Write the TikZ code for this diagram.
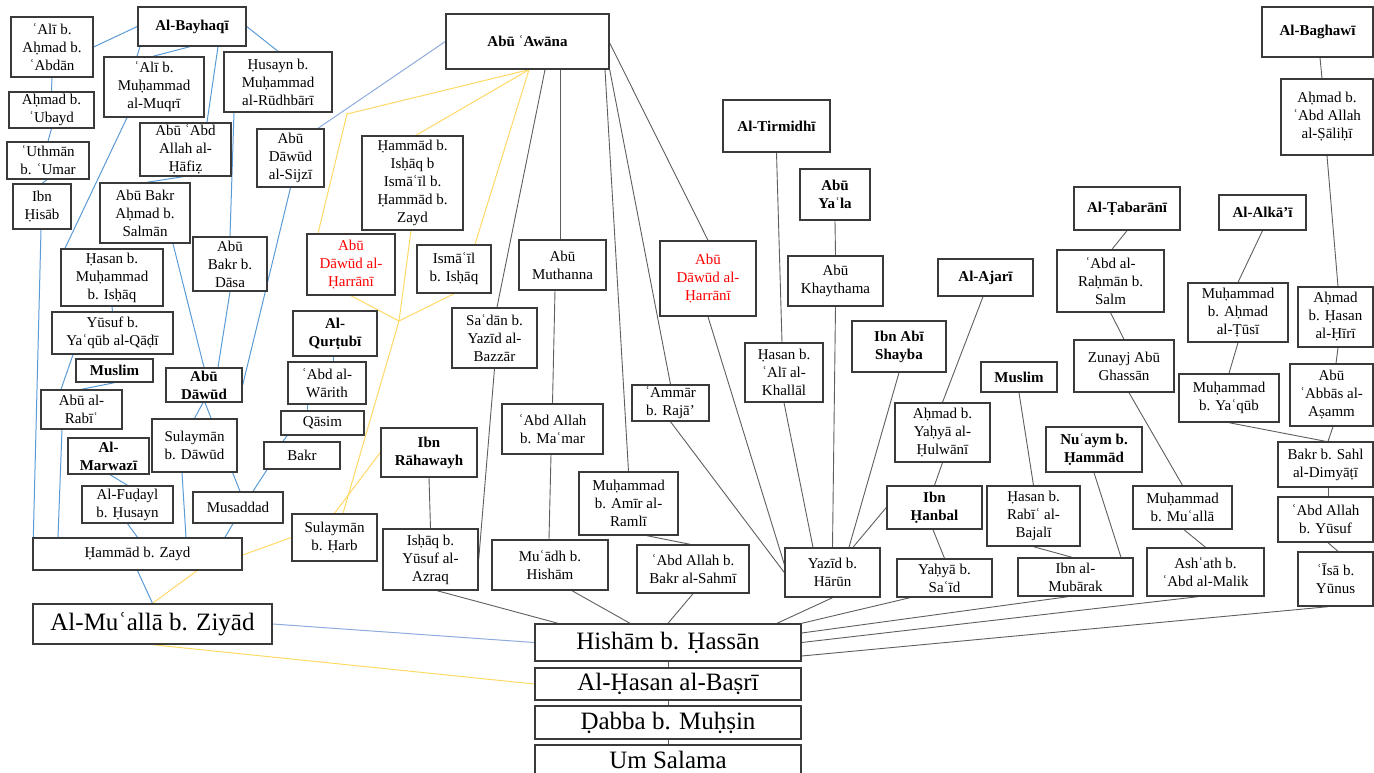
\documentclass[tikz,border=0pt]{standalone}
\usepackage{fontspec}
\setmainfont{Liberation Serif}
\definecolor{boxc}{HTML}{3A3A3A}
\definecolor{bluec}{HTML}{5B9BD5}
\definecolor{bluel}{HTML}{8FAADC}
\definecolor{yelc}{HTML}{FFD966}
\definecolor{gryc}{HTML}{5E5E5E}
\pgfdeclarelayer{edges}
\pgfsetlayers{edges,main}
\begin{document}
\begin{tikzpicture}[x=1pt,y=-1pt,
  box/.style={draw=boxc,line width=1.4pt,fill=white,inner sep=0pt,align=center,
    font=\fontsize{15}{18}\selectfont},
  bbox/.style={box,font=\fontsize{15}{18}\selectfont\bfseries},
  big/.style={box,font=\fontsize{25}{28}\selectfont},
  red/.style={text=red},
  bw/.style={minimum width=#1pt},
  bh/.style={minimum height=#1pt},
  blu/.style={draw=bluec,line width=1pt},
  blul/.style={draw=bluel,line width=1pt},
  yel/.style={draw=yelc,line width=1pt},
  gry/.style={draw=gryc,line width=0.9pt}]
\useasboundingbox (0,0) rectangle (1374,773);

% --- left cluster (Al-Bayhaqi line) ---
\node[box,bw=82,bh=60] (alib) at (52,47) {ʿAlī b.\\Aḥmad b.\\ʿAbdān};
\node[bbox,bw=108,bh=39] (bayhaqi) at (192,26.5) {Al-Bayhaqī};
\node[box,bw=100,bh=60] (alim) at (154,87) {ʿAlī b.\\Muḥammad\\al-Muqrī};
\node[box,bw=108,bh=60] (husayn) at (278,82) {Ḥusayn b.\\Muḥammad\\al-Rūdhbārī};
\node[box,bw=85,bh=36] (ahmadu) at (51.5,110) {Aḥmad b.\\ʿUbayd};
\node[box,bw=82,bh=37] (uthman) at (48,160.5) {ʿUthmān\\b. ʿUmar};
\node[box,bw=58,bh=45] (ibnhisab) at (42,206.5) {Ibn\\Ḥisāb};
\node[box,bw=91,bh=53] (hafiz) at (185.5,149.5) {Abū ʿAbd\\Allah al-\\Ḥāfiẓ};
\node[box,bw=67,bh=58] (sijzi) at (290.5,158) {Abū\\Dāwūd\\al-Sijzī};
\node[box,bw=90,bh=60] (abubakr) at (145,213) {Abū Bakr\\Aḥmad b.\\Salmān};
\node[box,bw=74,bh=54] (dasa) at (230,264) {Abū\\Bakr b.\\Dāsa};
\node[box,bw=102,bh=57] (hasanm) at (112,277.5) {Ḥasan b.\\Muḥammad\\b. Isḥāq};
\node[box,bw=121,bh=42] (yusufq) at (112.5,333) {Yūsuf b.\\Yaʿqūb al-Qāḍī};
\node[bbox,bw=77,bh=23] (muslim1) at (114.5,370.5) {Muslim};
\node[box,bw=81,bh=39] (rabi) at (81.5,409.5) {Abū al-\\Rabīʿ};
\node[bbox,bw=76,bh=34] (abudawud) at (204,385) {Abū\\Dāwūd};
\node[box,bw=85,bh=53] (sulaymand) at (194.5,445.5) {Sulaymān\\b. Dāwūd};
\node[bbox,bw=81,bh=36] (marwazi) at (108.5,456) {Al-\\Marwazī};
\node[box,bw=91,bh=37] (fudayl) at (127.5,504.5) {Al-Fuḍayl\\b. Ḥusayn};
\node[box,bw=90,bh=31] (musaddad) at (238,507.5) {Musaddad};
\node[box,bw=76,bh=27] (bakr) at (302,455.5) {Bakr};
\node[box,bw=83,bh=24] (qasim) at (322.5,423) {Qāsim};
\node[box,bw=78,bh=42] (warith) at (327,383) {ʿAbd al-\\Wārith};
\node[bbox,bw=84,bh=45] (qurtubi) at (335,333.5) {Al-\\Qurṭubī};
\node[box,bw=209,bh=32] (hammadz) at (137.5,554) {Ḥammād b. Zayd};
\node[big,bw=239,bh=40] (muallab) at (152.5,624) {Al-Muʿallā b. Ziyād};

% --- Abu Awana cluster ---
\node[box,red,bw=88,bh=61] (harrani1) at (351,264.5) {Abū\\Dāwūd al-\\Ḥarrānī};
\node[box,bw=74,bh=48] (ismail) at (454,269) {Ismāʿīl\\b. Isḥāq};
\node[box,bw=101,bh=94] (hammadi) at (412.5,183) {Ḥammād b.\\Isḥāq b\\Ismāʿīl b.\\Ḥammād b.\\Zayd};
\node[bbox,bw=163,bh=55] (awana) at (527.5,41.5) {Abū ʿAwāna};
\node[box,bw=87,bh=50] (muthanna) at (562.5,265) {Abū\\Muthanna};
\node[box,bw=85,bh=60] (sadan) at (494.5,338) {Saʿdān b.\\Yazīd al-\\Bazzār};
\node[box,bw=101,bh=50] (maamar) at (552.5,429) {ʿAbd Allah\\b. Maʿmar};
\node[box,bw=99,bh=63] (ramli) at (628.5,503.5) {Muḥammad\\b. Amīr al-\\Ramlī};
\node[box,bw=116,bh=50] (muadh) at (550,565) {Muʿādh b.\\Hishām};
\node[box,bw=112,bh=48] (sahmi) at (693,569) {ʿAbd Allah b.\\Bakr al-Sahmī};
\node[bbox,bw=96,bh=49] (rahawayh) at (429,452.5) {Ibn\\Rāhawayh};
\node[box,bw=95,bh=61] (ishaq) at (430.5,559.5) {Isḥāq b.\\Yūsuf al-\\Azraq};
\node[box,bw=85,bh=47] (sulaymanh) at (334.5,537.5) {Sulaymān\\b. Ḥarb};
\node[box,bw=77,bh=36] (ammar) at (670.5,403) {ʿAmmār\\b. Rajā’};
\node[box,red,bw=96,bh=75] (harrani2) at (708,278.5) {Abū\\Dāwūd al-\\Ḥarrānī};

% --- Yazid b. Harun cluster ---
\node[bbox,bw=107,bh=52] (tirmidhi) at (776.5,126) {Al-Tirmidhī};
\node[bbox,bw=70,bh=51] (abuyala) at (835,194.5) {Abū\\Yaʿla};
\node[box,bw=95,bh=50] (khaythama) at (835.5,281) {Abū\\Khaythama};
\node[box,bw=78,bh=59] (khallal) at (784,372.5) {Ḥasan b.\\ʿAlī al-\\Khallāl};
\node[bbox,bw=94,bh=51] (shayba) at (899,346.5) {Ibn Abī\\Shayba};
\node[bbox,bw=95,bh=37] (ajari) at (985.5,277.5) {Al-Ajarī};
\node[box,bw=95,bh=59] (hulwani) at (942.5,432.5) {Aḥmad b.\\Yaḥyā al-\\Ḥulwānī};
\node[bbox,bw=95,bh=43] (hanbal) at (934.5,507.5) {Ibn\\Ḥanbal};
\node[box,bw=95,bh=38] (yahya) at (944.5,578) {Yaḥyā b.\\Saʿīd};
\node[box,bw=95,bh=49] (yazid) at (832.5,572.5) {Yazīd b.\\Hārūn};

% --- right clusters ---
\node[bbox,bw=76,bh=30] (muslim2) at (1019,377) {Muslim};
\node[box,bw=93,bh=60] (bajali) at (1033.5,516) {Ḥasan b.\\Rabīʿ al-\\Bajalī};
\node[box,bw=115,bh=38] (mubarak) at (1075.5,577) {Ibn al-\\Mubārak};
\node[bbox,bw=96,bh=45] (nuaym) at (1094,449.5) {Nuʿaym b.\\Ḥammād};
\node[bbox,bw=106,bh=43] (tabarani) at (1127,208.5) {Al-Ṭabarānī};
\node[box,bw=107,bh=62] (rahman) at (1110.5,281) {ʿAbd al-\\Raḥmān b.\\Salm};
\node[box,bw=100,bh=52] (zunayj) at (1124,366) {Zunayj Abū\\Ghassān};
\node[box,bw=99,bh=43] (muhmualla) at (1182.5,507.5) {Muḥammad\\b. Muʿallā};
\node[box,bw=117,bh=48] (ashath) at (1205.5,572) {Ashʿath b.\\ʿAbd al-Malik};
\node[bbox,bw=87,bh=35] (alkai) at (1262.5,212.5) {Al-Alkā’ī};
\node[box,bw=100,bh=59] (tusi) at (1238,312.5) {Muḥammad\\b. Aḥmad\\al-Ṭūsī};
\node[box,bw=100,bh=48] (yaqub) at (1229,398) {Muḥammad\\b. Yaʿqūb};
\node[bbox,bw=111,bh=50] (baghawi) at (1317.5,32) {Al-Baghawī};
\node[box,bw=92,bh=76] (salihi) at (1327,117) {Aḥmad b.\\ʿAbd Allah\\al-Ṣāliḥī};
\node[box,bw=75,bh=60] (hiri) at (1335.5,317) {Aḥmad\\b. Ḥasan\\al-Ḥīrī};
\node[box,bw=83,bh=62] (asamm) at (1331.5,395) {Abū\\ʿAbbās al-\\Aṣamm};
\node[box,bw=95,bh=45] (bakrsahl) at (1325.5,464.5) {Bakr b. Sahl\\al-Dimyāṭī};
\node[box,bw=95,bh=45] (abdyusuf) at (1325.5,519.5) {ʿAbd Allah\\b. Yūsuf};
\node[box,bw=75,bh=54] (isa) at (1335.5,579) {ʿĪsā b.\\Yūnus};

% --- common chain at the bottom ---
\node[big,bw=266,bh=37] (hisham) at (668,642.5) {Hishām b. Ḥassān};
\node[big,bw=266,bh=32] (hasanb) at (668,684) {Al-Ḥasan al-Baṣrī};
\node[big,bw=266,bh=33] (dabba) at (668,722.5) {Ḍabba b. Muḥṣin};
\node[big,bw=266,bh=30] (umsalama) at (668,760) {Um Salama};

\coordinate (jn) at (399,321);
\coordinate (bd) at (347,114);

\begin{pgfonlayer}{edges}
% blue links
\draw[blu] (bayhaqi.west) -- (alib.east);
\draw[blu] ([xshift=-52pt]bayhaqi.south) -- ([xshift=-17pt]alim.north);
\draw[blu] ([xshift=-2pt]bayhaqi.south) -- ([xshift=-1pt]alim.north);
\draw[blu] ([xshift=26pt]bayhaqi.south) -- ([xshift=21.5pt]hafiz.north);
\draw[blu] (bayhaqi.east) -- (husayn.north);
\draw[blu] (alib.south) -- (ahmadu.north);
\draw[blu] (ahmadu.south) -- (uthman.north);
\draw[blu] ([xshift=-1pt]uthman.south) -- (ibnhisab.north);
\draw[blu] ([xshift=-1pt]ibnhisab.south) -- ([xshift=1pt]hammadz.north west);
\draw[blu] ([xshift=-27pt]alim.south) -- ([xshift=-47pt]hasanm.north);
\draw[blu] ([xshift=-44pt]husayn.south) -- (dasa.north);
\draw[blu] ([xshift=-2.5pt]hafiz.south) -- ([xshift=2pt]abubakr.north);
\draw[blul] ([xshift=27.5pt]sijzi.north) -- (awana.west);
\draw[blu] (sijzi.south) -- (abudawud.east);
\draw[blu] ([xshift=28pt]abubakr.south) -- (abudawud.north);
\draw[blu] (dasa.south) -- ([xshift=14pt]abudawud.north);
\draw[blu] (hasanm.south) -- (yusufq.north);
\draw[blu] ([xshift=-39.5pt]yusufq.south) -- ([xshift=-20.5pt]rabi.north);
\draw[blu] (muslim1.south) -- (rabi.north);
\draw[blu] ([xshift=-19.5pt]rabi.south) -- ([xshift=-79.5pt]hammadz.north);
\draw[blu] ([xshift=-1pt]abudawud.south) -- (sulaymand.north);
\draw[blu] ([xshift=1pt]abudawud.south) -- ([xshift=2pt]musaddad.north);
\draw[blu] ([xshift=1.5pt]marwazi.south) -- (fudayl.north);
\draw[blu] (fudayl.south) -- (hammadz.north);
\draw[blu] ([xshift=-12.5pt]sulaymand.south) -- ([xshift=48.5pt]hammadz.north);
\draw[blu] ([xshift=-5pt]musaddad.south) -- ([xshift=87.5pt]hammadz.north);
\draw[blu] ([xshift=-35pt]bakr.south) -- ([xshift=15pt]musaddad.north);
\draw[blu] ([xshift=-35.5pt]qasim.south) -- ([xshift=-19pt]bakr.north);
\draw[blu] ([xshift=-20pt]warith.south) -- ([xshift=-15.5pt]qasim.north);
\draw[blu] ([xshift=-2pt]qurtubi.south) -- ([xshift=6pt]warith.north);
\draw[blu] (hammadz.south) -- (muallab.north);
\draw[blul] (muallab.east) -- (hisham.west);

% yellow links
\draw[yel] (muallab.south) -- (hasanb.west);
\draw[yel] (muallab.north) -- ([xshift=59.5pt]hammadz.south);
\draw[yel] ([yshift=-1pt]hammadz.east) -- (sulaymanh.west);
\draw[yel] (rahawayh.west) -- (sulaymanh.north);
\draw[yel] ([xshift=-1.5pt]hammadi.south) -- (jn);
\draw[yel] (harrani1.south) -- (jn);
\draw[yel] (ismail.south) -- (jn);
\draw[yel] (jn) -- ([xshift=8.5pt]sulaymanh.north);
\draw[yel] ([xshift=1.5pt]awana.south) -- ([xshift=3.5pt]hammadi.north);
\draw[yel] ([xshift=1.5pt]awana.south) -- ([xshift=21pt]ismail.north);
\draw[yel] ([xshift=1.5pt]awana.south) -- (bd) -- ([xshift=-33pt]harrani1.north);

% grey links
\draw[gry] ([xshift=17.5pt]awana.south) -- ([xshift=2.5pt]sadan.north);
\draw[gry] ([xshift=32.5pt]awana.south) -- ([xshift=-2.5pt]muthanna.north);
\draw[gry] ([xshift=77.5pt]awana.south) -- (ramli.north);
\draw[gry] (awana.south east) -- (ammar.north);
\draw[gry] ([yshift=-1.5pt]awana.east) -- (harrani2.north);
\draw[gry] (sadan.south) -- (ishaq.east);
\draw[gry] ([xshift=-7.5pt]muthanna.south) -- (maamar.north);
\draw[gry] ([xshift=-1.5pt]maamar.south) -- ([xshift=-1pt]muadh.north);
\draw[gry] ([xshift=18.5pt]ramli.south) -- ([xshift=-3pt]sahmi.north);
\draw[gry] (ammar.south) -- (yazid.west);
\draw[gry] (harrani2.south) -- ([yshift=-17pt]yazid.north west);
\draw[gry] (tirmidhi.south) -- ([xshift=-2pt]khallal.north);
\draw[gry] (khallal.south) -- ([xshift=-19.5pt]yazid.north);
\draw[gry] (abuyala.south) -- (khaythama.north);
\draw[gry] (khaythama.south) -- (yazid.north);
\draw[gry] (shayba.south) -- ([xshift=16.5pt]yazid.north);
\draw[gry] (hanbal.west) -- ([xshift=20.5pt]yazid.north);
\draw[gry] ([xshift=-2.5pt]ajari.south) -- (hulwani.north);
\draw[gry] (hulwani.south) -- (hanbal.north);
\draw[gry] ([xshift=-1.5pt]hanbal.south) -- (yahya.north);
\draw[gry] (muslim2.south) -- (bajali.north);
\draw[gry] (bajali.south) -- ([xshift=-3.5pt]mubarak.north);
\draw[gry] (nuaym.south) -- ([xshift=45.5pt]mubarak.north);
\draw[gry] (tabarani.south) -- ([xshift=1.5pt]rahman.north);
\draw[gry] (rahman.south) -- (zunayj.north);
\draw[gry] ([xshift=5pt]zunayj.south) -- (muhmualla.north);
\draw[gry] ([xshift=1.5pt]muhmualla.south) -- (ashath.north);
\draw[gry] (alkai.south) -- (tusi.north);
\draw[gry] (tusi.south) -- (yaqub.north);
\draw[gry] (yaqub.south) -- (bakrsahl.north);
\draw[gry] ([xshift=2.5pt]baghawi.south) -- ([xshift=-5pt]salihi.north);
\draw[gry] (salihi.south) -- ([xshift=2.5pt]hiri.north);
\draw[gry] ([xshift=2.5pt]hiri.south) -- ([xshift=4.5pt]asamm.north);
\draw[gry] ([xshift=1.5pt]asamm.south) -- ([xshift=2.5pt]bakrsahl.north);
\draw[gry] ([xshift=2.5pt]bakrsahl.south) -- ([xshift=2.5pt]abdyusuf.north);
\draw[gry] ([xshift=2.5pt]abdyusuf.south) -- ([xshift=2.5pt]isa.north);
\draw[gry] (rahawayh.south) -- (ishaq.north);
\draw[gry] ([xshift=6.5pt]ishaq.south) -- ([xshift=-110pt]hisham.north);
\draw[gry] ([xshift=22pt]muadh.south) -- ([xshift=-38pt]hisham.north);
\draw[gry] (sahmi.south) -- (hisham.north);
\draw[gry] (yazid.south) -- ([xshift=109pt]hisham.north);
\draw[gry] ([xshift=-34.5pt]yahya.south) -- (hisham.north east);
\draw[gry] ([xshift=-7.5pt]mubarak.south) -- ([yshift=9.5pt]hisham.east);
\draw[gry] ([xshift=-7.5pt]ashath.south) -- (hisham.east);
\draw[gry] ([xshift=-7.5pt]isa.south) -- ([yshift=-13.5pt]hisham.east);
\draw[gry] (hisham.south) -- (hasanb.north);
\draw[gry] (hasanb.south) -- (dabba.north);
\draw[gry] (dabba.south) -- (umsalama.north);
\end{pgfonlayer}
\end{tikzpicture}
\end{document}
